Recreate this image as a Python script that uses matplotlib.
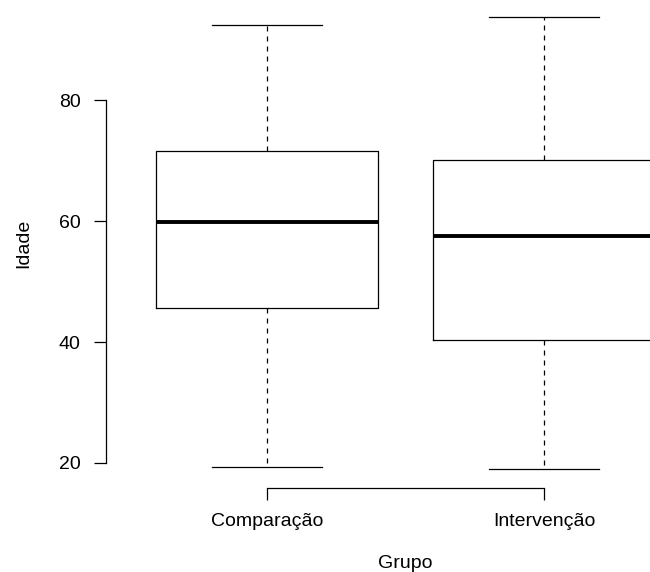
import matplotlib
matplotlib.use("Agg")
import matplotlib.pyplot as plt

groups = ["Comparação", "Intervenção"]
whislo = [19.3, 18.9]
q1 = [45.6, 40.3]
med = [59.9, 57.6]
q3 = [71.7, 70.1]
whishi = [92.5, 93.8]
yticks = [20, 40, 60, 80]

plt.rcParams["font.family"] = ["Liberation Sans", "DejaVu Sans"]

stats = [
    dict(label=g, whislo=lo, q1=a, med=m, q3=b, whishi=hi, fliers=[])
    for g, lo, a, m, b, hi in zip(groups, whislo, q1, med, q3, whishi)
]

fig = plt.figure(figsize=(6.5, 5.72), dpi=100)
# plot region runs past the right and top edges, as in the cropped original
ax = fig.add_axes([0.1635, 0.1477, 0.9206, 0.854])

line = dict(color="black", linewidth=0.9)
ax.bxp(
    stats,
    positions=[1, 2],
    widths=0.8,
    capwidths=0.4,
    boxprops=line,
    whiskerprops=dict(color="black", linewidth=0.9, linestyle=(0, (4, 4))),
    capprops=line,
    medianprops=dict(color="black", linewidth=2.8, solid_capstyle="butt"),
    showfliers=False,
)

lo, hi = min(whislo), max(whishi)
pad = 0.04 * (hi - lo)
ax.set_ylim(lo - pad, hi + pad)
ax.set_xlim(0.42, 2.58)

for side in ["top", "right"]:
    ax.spines[side].set_visible(False)
ax.spines["left"].set_bounds(yticks[0], yticks[-1])
ax.spines["bottom"].set_bounds(1, 2)
for s in ["left", "bottom"]:
    ax.spines[s].set_linewidth(0.9)

ax.set_yticks(yticks)
ax.set_xticks([1, 2])
ax.set_xticklabels(groups)
ax.tick_params(axis="both", length=8.5, width=0.9, labelsize=14, direction="out")
ax.tick_params(axis="y", pad=10)
ax.tick_params(axis="x", pad=10)

ax.set_ylabel("Idade", fontsize=14, labelpad=19)
ax.set_xlabel("Grupo", fontsize=14, labelpad=18)

fig.savefig("out.png", dpi=100)
